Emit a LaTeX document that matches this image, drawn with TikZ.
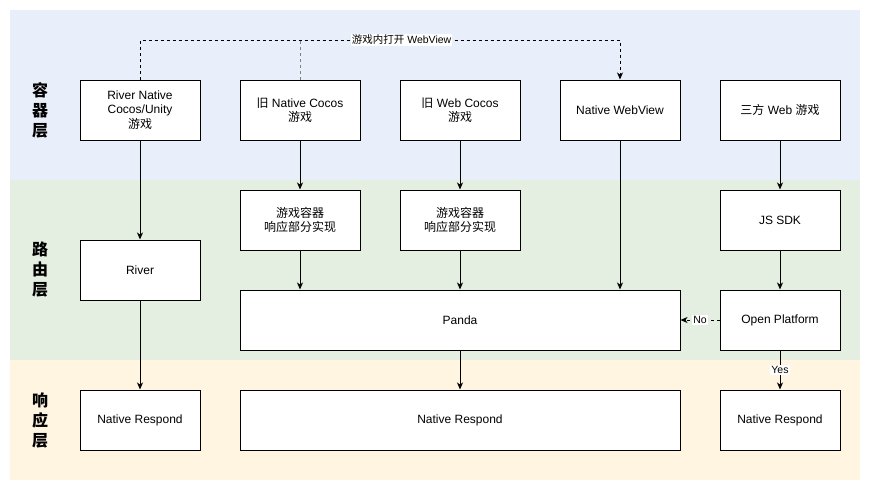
\documentclass[tikz,border=0pt]{standalone}
\usepackage{fontspec}
\setmainfont{Liberation Sans}
\newfontfamily\cjk{Noto Sans CJK SC}
\newcommand{\zh}[1]{{\cjk #1}}
\usetikzlibrary{arrows.meta,positioning}

\begin{document}
\begin{tikzpicture}[x=1pt, y=-1pt,
    box/.style={draw, fill=white, line width=1pt, minimum width=120pt, minimum height=60pt, inner sep=0pt, align=center, font=\fontsize{12}{14.5}\selectfont},
    widebox/.style={box, minimum width=440pt},
    flow/.style={-{Stealth[length=7pt, width=6pt, inset=2pt]}, line width=1pt},
    dashy/.style={dash pattern=on 3pt off 3pt},
    lbl/.style={fill=white, inner sep=1pt, font=\fontsize{10.5}{12}\selectfont},
    layer/.style={align=center, font=\cjk\bfseries\fontsize{16}{20}\selectfont}]
    % Color Palette
    \definecolor{bandBlue}{HTML}{E9EFFA}
    \definecolor{bandGreen}{HTML}{E4EFE2}
    \definecolor{bandYellow}{HTML}{FFF5E0}

    \useasboundingbox (0,0) rectangle (871,491);

    % --- Layer bands ---
    \fill[bandBlue] (10,10) rectangle (860,180);
    \fill[bandGreen] (10,180) rectangle (860,360);
    \fill[bandYellow] (10,360) rectangle (860,480);

    \node[layer] (lc) at (40,110) {容\\器\\层};
    \node[layer] (lr) at (40,270) {路\\由\\层};
    \node[layer] (lp) at (40,420) {响\\应\\层};

    % --- Container layer ---
    \node[box] (rnc) at (140,110) {River Native\\Cocos/Unity\\\zh{游戏}};
    \node[box] (oldnc) at (300,110) {\zh{旧} Native Cocos\\\zh{游戏}};
    \node[box] (oldwc) at (460,110) {\zh{旧} Web Cocos\\\zh{游戏}};
    \node[box] (nwv) at (620,110) {Native WebView};
    \node[box] (tpweb) at (780,110) {\zh{三方} Web \zh{游戏}};

    % --- Routing layer ---
    \node[box] (gc1) at (300,220) {\zh{游戏容器}\\\zh{响应部分实现}};
    \node[box] (gc2) at (460,220) {\zh{游戏容器}\\\zh{响应部分实现}};
    \node[box] (jssdk) at (780,220) {JS SDK};
    \node[box] (river) at (140,270) {River};
    \node[widebox] (panda) at (460,320) {Panda};
    \node[box] (openp) at (780,320) {Open Platform};

    % --- Respond layer ---
    \node[box] (nr1) at (140,420) {Native Respond};
    \node[widebox] (nr2) at (460,420) {Native Respond};
    \node[box] (nr3) at (780,420) {Native Respond};

    % In-game WebView link
    \coordinate (dl) at (140,40);
    \coordinate (dr) at (620,40);
    \draw[flow, dashy] (rnc.north) -- (dl) -- node[lbl, pos=0.545] (wvlbl) {\zh{游戏内打开} WebView} (dr) -- (nwv.north);
    \draw[dashy, line width=1pt, gray] (oldnc.north) -- (oldnc.north |- dl);

    % Arrows
    \draw[flow] (rnc) -- (river);
    \draw[flow] (river) -- (nr1);
    \draw[flow] (oldnc) -- (gc1);
    \draw[flow] (oldwc) -- (gc2);
    \draw[flow] (gc1.south) -- (gc1.south |- panda.north);
    \draw[flow] (gc2.south) -- (gc2.south |- panda.north);
    \draw[flow] (nwv.south) -- (nwv.south |- panda.north);
    \draw[flow] (tpweb) -- (jssdk);
    \draw[flow] (jssdk) -- (openp);
    \draw[flow, dashy] (openp) -- node[lbl] (nolbl) {No} (panda.east);
    \draw[flow] (openp) -- node[lbl] (yeslbl) {Yes} (nr3);
    \draw[flow] (panda) -- (nr2);
\end{tikzpicture}
\end{document}
